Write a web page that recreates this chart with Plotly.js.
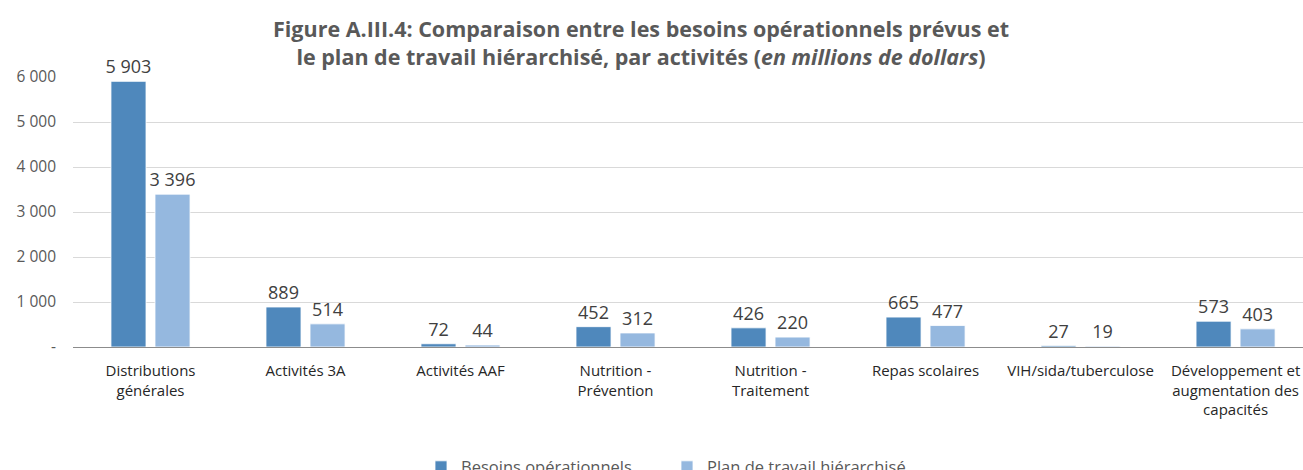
<!DOCTYPE html>
<html>
<head>
<meta charset="utf-8">
<script src="https://cdn.plot.ly/plotly-3.0.1.min.js"></script>
<style>html,body{margin:0;padding:0;background:#fff;}#chart{width:1303px;height:470px;}</style>
</head>
<body>
<div id="chart"></div>
<script>
const categories = [
  "Distributions<br>générales",
  "Activités 3A",
  "Activités AAF",
  "Nutrition -<br>Prévention",
  "Nutrition -<br>Traitement",
  "Repas scolaires",
  "VIH/sida/tuberculose",
  "Développement et<br>augmentation des<br>capacités"
];
const besoins = [5903, 889, 72, 452, 426, 665, 27, 573];
const plan = [3396, 514, 44, 312, 220, 477, 19, 403];
const seriesNames = ["Besoins opérationnels", "Plan de travail hiérarchisé"];
const yTickVals = [0, 1000, 2000, 3000, 4000, 5000, 6000];
const yTickText = ["-", "1 000", "2 000", "3 000", "4 000", "5 000", "6 000"];
const titleText = "<b>Figure A.III.4: Comparaison entre les besoins opérationnels prévus et<br>le plan de travail hiérarchisé, par activités (<i>en millions de dollars</i>)</b>";

function fmt(v) { return String(v).replace(/\B(?=(\d{3})+(?!\d))/g, " "); }

const FONT = "Open Sans, Noto Sans, sans-serif";
const xIdx = categories.map((c, i) => i);

const traces = [
  {
    type: "bar", name: seriesNames[0], x: xIdx, y: besoins,
    marker: {color: "#4F88BC", line: {color: "#ffffff", width: 0.8}},
    text: besoins.map(fmt), textposition: "outside", constraintext: "none",
    textfont: {family: FONT, size: 18, color: "#404040"},
    cliponaxis: false, hoverinfo: "none"
  },
  {
    type: "bar", name: seriesNames[1], x: xIdx, y: plan,
    marker: {color: "#95B8DF", line: {color: "#ffffff", width: 0.8}},
    text: plan.map(fmt), textposition: "outside", constraintext: "none",
    textfont: {family: FONT, size: 18, color: "#404040"},
    cliponaxis: false, hoverinfo: "none"
  }
];

const layout = {
  width: 1303, height: 470,
  paper_bgcolor: "#ffffff", plot_bgcolor: "#ffffff",
  margin: {l: 73, r: 0, t: 77, b: 123, autoexpand: false},
  font: {family: FONT, color: "#404040"},
  annotations: [{
    text: titleText, showarrow: false,
    xref: "paper", yref: "paper",
    x: (641 - 73) / 1230, xanchor: "center",
    y: (347 - 42.5) / 270, yanchor: "middle",
    font: {family: FONT, size: 21.5, color: "#595959"}
  }],
  barmode: "group",
  bargap: 0.432,
  bargroupgap: 0.2045,
  showlegend: true,
  legend: {
    orientation: "h", x: 421 / 1303, xanchor: "left", xref: "container",
    y: -0.38, yanchor: "top",
    font: {family: FONT, size: 16.5, color: "#595959"},
    entrywidth: 201, entrywidthmode: "pixels",
    bgcolor: "rgba(0,0,0,0)"
  },
  xaxis: {
    tickmode: "array", tickvals: xIdx, ticktext: categories,
    range: [-0.5, 7.435],
    showgrid: false, zeroline: false,
    showline: true, linecolor: "#8c8c8c", linewidth: 1,
    ticks: "", ticklabelstandoff: 10,
    tickfont: {family: FONT, size: 15, color: "#262626"},
    fixedrange: true
  },
  yaxis: {
    range: [0, 6000],
    tickmode: "array", tickvals: yTickVals, ticktext: yTickText,
    showgrid: true, gridcolor: "#d9d9d9", gridwidth: 1,
    zeroline: false, showline: false,
    ticks: "", ticklabelstandoff: 16,
    tickfont: {family: FONT, size: 15.5, color: "#595959"},
    fixedrange: true
  }
};

Plotly.newPlot("chart", traces, layout, {displayModeBar: false, staticPlot: true});
</script>
</body>
</html>
